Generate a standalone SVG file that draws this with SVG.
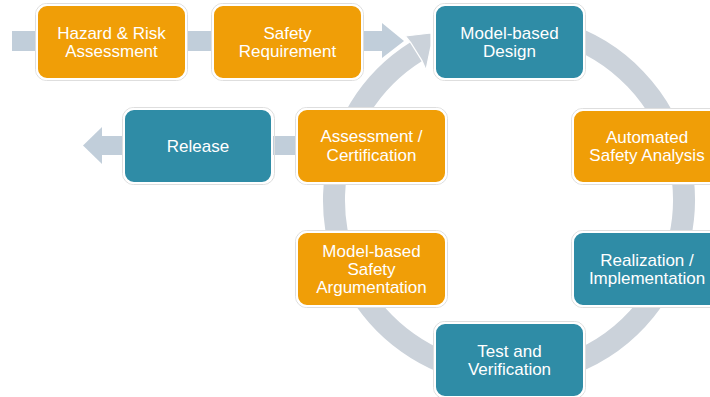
<svg xmlns="http://www.w3.org/2000/svg" width="710" height="397" viewBox="0 0 710 397">
<style>
.box rect.o{fill:none;stroke:#dedede;stroke-width:1}
.box rect.f{stroke:#fff;stroke-width:2}
.orange rect.f{fill:#F09E07}
.teal rect.f{fill:#2F8CA6}
.box text{font-family:"Liberation Sans",Arial,sans-serif;font-size:17px;fill:#fff;text-anchor:middle}
.band{fill:#C1CEDA}
.ring{fill:none;stroke:#CBD2DA;stroke-width:22}
</style>
<rect width="710" height="397" fill="#fff"/>
<g id="connectors">
  <rect class="band" x="12" y="31" width="372" height="20"/>
  <polygon class="band" points="382,23 404,41 382,58"/>
  <rect class="band" x="101" y="136" width="198" height="19"/>
  <polygon class="band" points="102,127 83,145.5 102,164"/>
  <path class="ring" d="M 478.6 27.7 A 175 175 0 1 1 416.3 51.6"/>
  <polygon points="405.5,36 431,33 431,46 426,70 422.1,60.9 410.5,42.4" fill="#CBD2DA" stroke="#fff" stroke-width="1.2" stroke-linejoin="round"/>
</g>
<g id="hazard" class="box orange">
  <rect class="o" x="35.5" y="3.5" width="152" height="77" rx="11"/>
  <rect class="f" x="37" y="5" width="149" height="74" rx="10"/>
  <text x="111.5" y="38.5">Hazard &amp; Risk<tspan x="111.5" dy="18.5">Assessment</tspan></text>
</g>
<g id="safety-requirement" class="box orange">
  <rect class="o" x="211.5" y="3.5" width="152" height="77" rx="11"/>
  <rect class="f" x="213" y="5" width="149" height="74" rx="10"/>
  <text x="287.5" y="38.5">Safety<tspan x="287.5" dy="18.5">Requirement</tspan></text>
</g>
<g id="model-based-design" class="box teal">
  <rect class="o" x="433.5" y="3.5" width="152" height="77" rx="11"/>
  <rect class="f" x="435" y="5" width="149" height="74" rx="10"/>
  <text x="509.5" y="38.5">Model-based<tspan x="509.5" dy="18.5">Design</tspan></text>
</g>
<g id="automated-safety-analysis" class="box orange">
  <rect class="o" x="571.5" y="108.5" width="152" height="76" rx="11"/>
  <rect class="f" x="573" y="110" width="149" height="73" rx="10"/>
  <text x="647" y="142.5">Automated<tspan x="647" dy="18.5">Safety Analysis</tspan></text>
</g>
<g id="release" class="box teal">
  <rect class="o" x="122.5" y="107.5" width="152" height="77" rx="11"/>
  <rect class="f" x="124" y="109" width="148" height="74" rx="10"/>
  <text x="198" y="152">Release</text>
</g>
<g id="assessment-certification" class="box orange">
  <rect class="o" x="295.5" y="107.5" width="152" height="77" rx="11"/>
  <rect class="f" x="297" y="109" width="149" height="74" rx="10"/>
  <text x="371.5" y="142">Assessment /<tspan x="371.5" dy="18.5">Certification</tspan></text>
</g>
<g id="model-based-safety-argumentation" class="box orange">
  <rect class="o" x="295.5" y="230.5" width="152" height="77" rx="11"/>
  <rect class="f" x="297" y="232" width="149" height="74" rx="10"/>
  <text x="371.5" y="256.5">Model-based<tspan x="371.5" dy="18">Safety</tspan><tspan x="371.5" dy="18">Argumentation</tspan></text>
</g>
<g id="realization-implementation" class="box teal">
  <rect class="o" x="571.5" y="230.5" width="152" height="77" rx="11"/>
  <rect class="f" x="573" y="232" width="149" height="74" rx="10"/>
  <text x="647" y="265.5">Realization /<tspan x="647" dy="18.5">Implementation</tspan></text>
</g>
<g id="test-verification" class="box teal">
  <rect class="o" x="433.5" y="321.5" width="152" height="77" rx="11"/>
  <rect class="f" x="435" y="323" width="149" height="74" rx="10"/>
  <text x="509.5" y="356.5">Test and<tspan x="509.5" dy="18.5">Verification</tspan></text>
</g>
</svg>
